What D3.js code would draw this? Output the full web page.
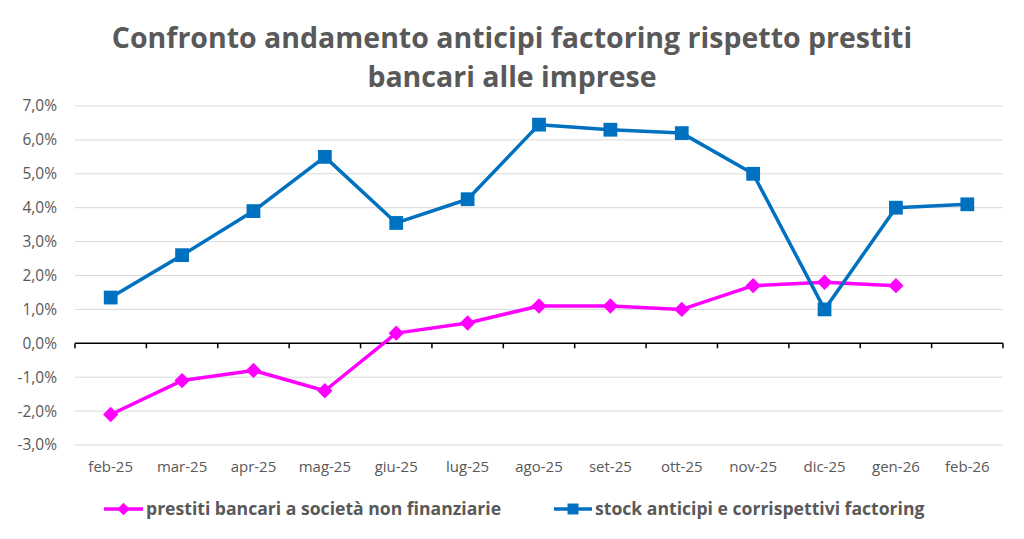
<!DOCTYPE html>
<html>
<head>
<meta charset="utf-8">
<script src="https://cdn.jsdelivr.net/npm/d3@7"></script>
<style>
  body { margin: 0; background: #fff; }
  text { font-family: "Open Sans", "Noto Sans", sans-serif; }
</style>
</head>
<body>
<div id="chart"></div>
<script>
// categories and series values (percent)
var months = ["feb-25", "mar-25", "apr-25", "mag-25", "giu-25", "lug-25", "ago-25",
              "set-25", "ott-25", "nov-25", "dic-25", "gen-26", "feb-26"];
var prestiti = [-2.1, -1.1, -0.8, -1.4, 0.3, 0.6, 1.1, 1.1, 1.0, 1.7, 1.8, 1.7, null];
var factoring = [1.35, 2.6, 3.9, 5.5, 3.55, 4.25, 6.45, 6.3, 6.2, 5.0, 1.0, 4.0, 4.1];
var yTicks = [-3, -2, -1, 0, 1, 2, 3, 4, 5, 6, 7];
var seriesNames = ["prestiti bancari a società non finanziarie",
                   "stock anticipi e corrispettivi factoring"];

var W = 1024, H = 539;
var margin = {top: 106, right: 21, bottom: 95, left: 75},
    width = W - margin.left - margin.right,
    height = H - margin.top - margin.bottom;

var svg = d3.select("#chart").append("svg")
  .attr("width", W)
  .attr("height", H);

//title
var title = svg.append("text")
  .attr("x", 512)
  .attr("text-anchor", "middle")
  .attr("fill", "#595959")
  .attr("font-weight", "bold")
  .attr("font-size", "28.5px");
title.append("tspan").attr("x", 512).attr("y", 48)
  .text("Confronto andamento anticipi factoring rispetto prestiti");
title.append("tspan").attr("x", 512).attr("y", 87)
  .text("bancari alle imprese");

var g = svg.append("g")
  .attr("transform", "translate(" + margin.left + "," + margin.top + ")");

var x = d3.scaleBand()
  .domain(months)
  .range([0, width])
  .padding(0);

var y = d3.scaleLinear()
  .domain([-3, 7])
  .range([height + 1, 0]);

//gridlines
g.append("g")
  .selectAll("line")
  .data(yTicks.filter(function(d) { return d !== 0; }))
  .enter()
  .append("line")
    .attr("x1", 0)
    .attr("x2", width)
    .attr("y1", function(d) { return y(d); })
    .attr("y2", function(d) { return y(d); })
    .attr("stroke", "#d9d9d9")
    .attr("stroke-width", 1);

//y axis labels
g.append("g")
  .selectAll("text")
  .data(yTicks)
  .enter()
  .append("text")
    .attr("x", -18)
    .attr("y", function(d) { return y(d); })
    .attr("dy", "0.35em")
    .attr("text-anchor", "end")
    .attr("fill", "#595959")
    .attr("font-size", "15.5px")
    .text(function(d) { return d.toFixed(1).replace(".", ",") + "%"; });

//zero axis with ticks between categories
var zero = g.append("g")
  .attr("transform", "translate(0," + y(0) + ")");
zero.append("line")
  .attr("x1", 0).attr("x2", width)
  .attr("stroke", "#000").attr("stroke-width", 1.5);
zero.selectAll(".tk")
  .data(months.concat(["end"]))
  .enter()
  .append("line")
    .attr("class", "tk")
    .attr("x1", function(d, i) { return i * x.bandwidth(); })
    .attr("x2", function(d, i) { return i * x.bandwidth(); })
    .attr("y1", 0).attr("y2", 5)
    .attr("stroke", "#000").attr("stroke-width", 1.5);

//x labels
g.append("g")
  .selectAll("text")
  .data(months)
  .enter()
  .append("text")
    .attr("x", function(d) { return x(d) + x.bandwidth() / 2; })
    .attr("y", height + 28)
    .attr("text-anchor", "middle")
    .attr("fill", "#595959")
    .attr("font-size", "15px")
    .text(function(d) { return d; });

var cx = function(d, i) { return x(months[i]) + x.bandwidth() / 2; };

var line = d3.line()
  .defined(function(d) { return d !== null; })
  .x(cx)
  .y(function(d) { return y(d); });

//prestiti line + diamonds
g.append("path")
  .datum(prestiti)
  .attr("d", line)
  .attr("fill", "none")
  .attr("stroke", "#FF00FF")
  .attr("stroke-width", 3.5)
  .attr("stroke-linejoin", "round");

var diamond = d3.symbol().type(d3.symbolDiamond2).size(150);
var square = d3.symbol().type(d3.symbolSquare).size(190);

g.append("g")
  .selectAll("path")
  .data(prestiti)
  .enter()
  .filter(function(d) { return d !== null; })
  .append("path")
    .attr("d", diamond)
    .attr("transform", function(d, i) { return "translate(" + cx(d, i) + "," + y(d) + ")"; })
    .attr("fill", "#FF00FF");

//factoring line + squares
g.append("path")
  .datum(factoring)
  .attr("d", line)
  .attr("fill", "none")
  .attr("stroke", "#0070C0")
  .attr("stroke-width", 3.5)
  .attr("stroke-linejoin", "round");

g.append("g")
  .selectAll("path")
  .data(factoring)
  .enter()
  .append("path")
    .attr("d", square)
    .attr("transform", function(d, i) { return "translate(" + cx(d, i) + "," + y(d) + ")"; })
    .attr("fill", "#0070C0");

//legend
var legend = [
  {name: seriesNames[0], color: "#FF00FF", x0: 104, x1: 143, tx: 146},
  {name: seriesNames[1], color: "#0070C0", x0: 554, x1: 592, tx: 595}
];
var lg = svg.append("g").selectAll("g")
  .data(legend)
  .enter()
  .append("g");
lg.append("line")
  .attr("x1", function(d) { return d.x0; })
  .attr("x2", function(d) { return d.x1; })
  .attr("y1", 509).attr("y2", 509)
  .attr("stroke", function(d) { return d.color; })
  .attr("stroke-width", 3.5);
lg.append("path")
  .attr("d", function(d, i) { return i === 0 ? d3.symbol().type(d3.symbolDiamond2).size(100)() : d3.symbol().type(d3.symbolSquare).size(120)(); })
  .attr("transform", function(d) { return "translate(" + ((d.x0 + d.x1) / 2) + ",509)"; })
  .attr("fill", function(d) { return d.color; });
lg.append("text")
  .attr("x", function(d) { return d.tx; })
  .attr("y", 509)
  .attr("dy", "0.35em")
  .attr("fill", "#595959")
  .attr("font-weight", "bold")
  .attr("font-size", "17.6px")
  .text(function(d) { return d.name; });
</script>
</body>
</html>
